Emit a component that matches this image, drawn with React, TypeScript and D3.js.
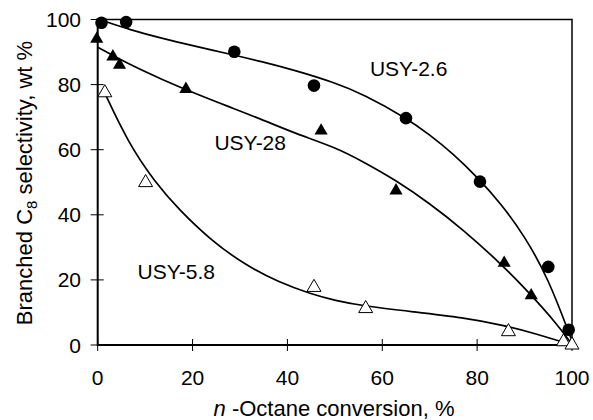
import { useEffect, useRef } from 'react'
import * as d3 from 'd3'

const xTicks = [0, 20, 40, 60, 80, 100]
const yTicks = [0, 20, 40, 60, 80, 100]

// USY-2.6, filled circles
const usy26X = [0.8, 6, 28.8, 45.6, 65, 80.6, 95, 99.3]
const usy26Y = [99, 99.2, 90.1, 79.7, 69.7, 50.2, 24, 4.7]
const fit26X = [1, 6.5, 13.5, 20.5, 27.5, 34.5, 41.6, 50, 56, 65, 70, 75, 80, 85, 90, 95, 99.8]
const fit26Y = [99.7, 97, 94.2, 91.8, 89.5, 87.1, 84.4, 80.6, 77, 69.8, 64.6, 58.7, 51.6, 43.5, 33.5, 20.5, 2]

// USY-28, filled triangles
const usy28X = [-0.2, 3.2, 4.6, 18.6, 47.1, 62.9, 85.7, 91.4]
const usy28Y = [94, 88.6, 86, 78.6, 65.8, 47.4, 25.2, 15.2]
const fit28X = [0, 6.5, 13.5, 20.5, 27.5, 34.6, 41.6, 50, 56, 63, 70, 77, 85, 91, 96.8, 99.6]
const fit28Y = [91.5, 86.3, 81.6, 77.3, 73.3, 69.3, 65, 60.8, 56.3, 50.5, 43.5, 35.5, 25, 16, 6.5, 1]

// USY-5.8, open triangles
const usy58X = [1.5, 10.1, 45.6, 56.5, 86.6, 98.2, 100]
const usy58Y = [77.5, 49.9, 17.7, 11.2, 4.1, 1.0, 0]
const fit58X = [1.2, 6.45, 12.1, 17, 24, 31.1, 38.1, 45.1, 50, 56, 66.5, 77.1, 85.5, 92.6, 99.6]
const fit58Y = [78.3, 62, 50, 41.8, 32, 24.6, 19.3, 15.6, 13.7, 12, 10.2, 8.4, 6.1, 3.4, 0.2]

const labels = [
  { text: 'USY-2.6', x: 57.4, y: 82.7 },
  { text: 'USY-28', x: 24.6, y: 59.9 },
  { text: 'USY-5.8', x: 8.4, y: 20.2 },
]

export default function App() {
  const ref = useRef<SVGSVGElement>(null)

  useEffect(() => {
    const svg = d3.select(ref.current)
    svg.selectAll('*').remove()

    const font = 'Liberation Sans, Arial, sans-serif'
    const x = d3.scaleLinear().domain([0, 100]).range([97.7, 572])
    const y = d3.scaleLinear().domain([0, 100]).range([345, 19.5])

    const g = svg.append('g')

    // frame top/right
    g.append('path')
      .attr('d', `M${x(0)},${y(100)}H${x(100)}V${y(0)}`)
      .attr('fill', 'none').attr('stroke', '#000').attr('stroke-width', 1.5)

    // axes
    g.append('path')
      .attr('d', `M${x(0)},${y(100)}V${y(0)}H${x(100)}`)
      .attr('fill', 'none').attr('stroke', '#000').attr('stroke-width', 2)

    xTicks.forEach(t => {
      g.append('line').attr('x1', x(t)).attr('x2', x(t)).attr('y1', y(0) - 6).attr('y2', y(0) + 6)
        .attr('stroke', '#000').attr('stroke-width', 1)
      g.append('text').attr('x', x(t)).attr('y', 385).attr('text-anchor', 'middle')
        .attr('font-family', font).attr('font-size', 21).text(t)
    })
    yTicks.forEach(t => {
      g.append('line').attr('x1', x(0) - 7).attr('x2', x(0) + 6).attr('y1', y(t)).attr('y2', y(t))
        .attr('stroke', '#000').attr('stroke-width', 1)
      g.append('text').attr('x', 81).attr('y', y(t) + 7.5).attr('text-anchor', 'end')
        .attr('font-family', font).attr('font-size', 21).text(t)
    })

    // axis titles
    const xt = g.append('text').attr('x', 334).attr('y', 416).attr('text-anchor', 'middle')
      .attr('font-family', font).attr('font-size', 22)
    xt.append('tspan').attr('font-style', 'italic').text('n')
    xt.append('tspan').text(' -Octane conversion, %')

    const yt = g.append('text').attr('transform', `translate(32,183) rotate(-90)`)
      .attr('text-anchor', 'middle').attr('font-family', font).attr('font-size', 22)
    yt.append('tspan').text('Branched C')
    yt.append('tspan').attr('font-size', 15).attr('dy', 5).text('8')
    yt.append('tspan').attr('dy', -5).text(' selectivity, wt %')

    // fitted curves
    const line = d3.line<[number, number]>().x(d => x(d[0])).y(d => y(d[1]))
      .curve(d3.curveBasis)
    const fits: [number[], number[]][] = [[fit26X, fit26Y], [fit28X, fit28Y], [fit58X, fit58Y]]
    fits.forEach(([xs, ys]) => {
      g.append('path').attr('d', line(xs.map((v, i) => [v, ys[i]]) as [number, number][]))
        .attr('fill', 'none').attr('stroke', '#000').attr('stroke-width', 1.7)
    })

    // markers
    usy26X.forEach((v, i) => {
      g.append('circle').attr('cx', x(v)).attr('cy', y(usy26Y[i])).attr('r', 6.3).attr('fill', '#000')
    })
    const tri = d3.symbol().type(d3.symbolTriangle)
    usy28X.forEach((v, i) => {
      g.append('path').attr('d', tri.size(75)()).attr('transform', `translate(${x(v)},${y(usy28Y[i])})`)
        .attr('fill', '#000')
    })
    usy58X.forEach((v, i) => {
      g.append('path').attr('d', tri.size(85)()).attr('transform', `translate(${x(v)},${y(usy58Y[i])})`)
        .attr('fill', '#fff').attr('stroke', '#000').attr('stroke-width', 1)
    })

    // series labels
    labels.forEach(l => {
      g.append('text').attr('x', x(l.x)).attr('y', y(l.y)).attr('font-family', font)
        .attr('font-size', 21).text(l.text)
    })
  }, [])

  return (
    <svg ref={ref} width={593} height={420}
      style={{ position: 'absolute', left: 0, top: 0, background: '#fff' }} />
  )
}
